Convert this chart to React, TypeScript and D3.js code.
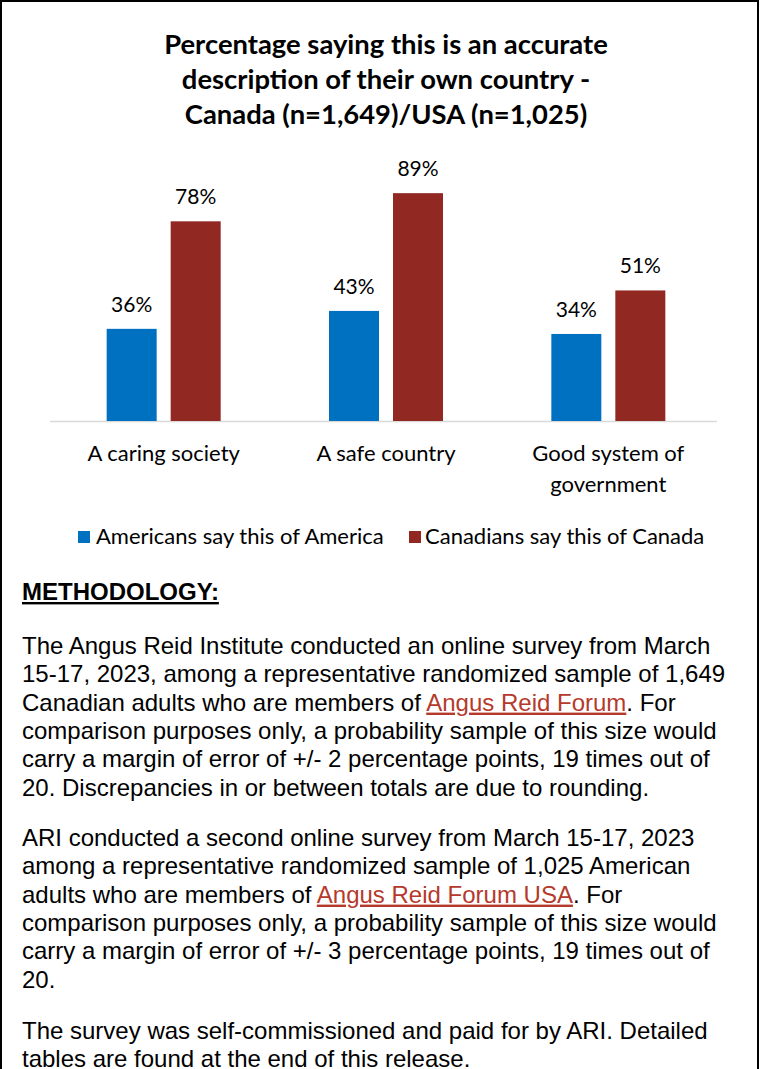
import React from "react";
import * as d3 from "d3";

const categories = ["A caring society", "A safe country", "Good system of government"];
const categoryLines = [["A caring society"], ["A safe country"], ["Good system of", "government"]];
const seriesNames = ["Americans say this of America", "Canadians say this of Canada"];
const americans = [36, 43, 34];
const canadians = [78, 89, 51];
const seriesColors = ["#0070C0", "#922822"];
const titleLines = [
  "Percentage saying this is an accurate",
  "description of their own country -",
  "Canada (n=1,649)/USA (n=1,025)",
];

type Seg = { t: string; link?: boolean };
const paragraph1: Seg[][] = [
  [{ t: "The Angus Reid Institute conducted an online survey from March" }],
  [{ t: "15-17, 2023, among a representative randomized sample of 1,649" }],
  [{ t: "Canadian adults who are members of " }, { t: "Angus Reid Forum", link: true }, { t: ". For" }],
  [{ t: "comparison purposes only, a probability sample of this size would" }],
  [{ t: "carry a margin of error of +/- 2 percentage points, 19 times out of" }],
  [{ t: "20. Discrepancies in or between totals are due to rounding." }],
];
const paragraph2: Seg[][] = [
  [{ t: "ARI conducted a second online survey from March 15-17, 2023" }],
  [{ t: "among a representative randomized sample of 1,025 American" }],
  [{ t: "adults who are members of " }, { t: "Angus Reid Forum USA", link: true }, { t: ". For" }],
  [{ t: "comparison purposes only, a probability sample of this size would" }],
  [{ t: "carry a margin of error of +/- 3 percentage points, 19 times out of" }],
  [{ t: "20." }],
];
const paragraph3: Seg[][] = [
  [{ t: "The survey was self-commissioned and paid for by ARI. Detailed" }],
  [{ t: "tables are found at the end of this release." }],
];

const W = 760;
const H = 1069;

export default function App() {
  const x0 = d3.scaleBand<string>().domain(categories).range([52.5, 719.5]).paddingInner(0).paddingOuter(0);
  const y = d3.scaleLinear().domain([0, 100]).range([421, 165]);
  const barW = 50;
  const gap = 14;
  const series = [americans, canadians];

  const titleFont = "Lato, 'Open Sans', sans-serif";
  const bodyFont = "'Liberation Sans', Arial, sans-serif";

  const renderPara = (lines: Seg[][], startY: number) =>
    lines.map((segs, i) => (
      <text key={i} x={22} y={startY + i * 28.3} fontFamily={bodyFont} fontSize={24} fill="#000">
        {segs.map((s, j) => (
          <tspan key={j} fill={s.link ? "#B53A2C" : "#000"}
            style={s.link ? { textDecoration: "underline" } : undefined}>
            {s.t}
          </tspan>
        ))}
      </text>
    ));

  return (
    <div style={{ position: "absolute", left: 0, top: 0 }}>
      <svg width={W} height={H} viewBox={`0 0 ${W} ${H}`} style={{ display: "block" }}>
        <rect x={0} y={0} width={W} height={H} fill="#fff" />
        <path d={`M1,${H} V1 H758 V${H}`} fill="none" stroke="#000" strokeWidth={2} />

        {titleLines.map((t, i) => (
          <text key={i} x={386} y={54 + i * 35} textAnchor="middle" fontFamily={titleFont} fontWeight={700} fontSize={27.4} fill="#000">
            {t}
          </text>
        ))}

        <line x1={50} x2={717} y1={y(0) + 0.5} y2={y(0) + 0.5} stroke="#D9D9D9" strokeWidth={1.5} />

        {categories.map((c, ci) => {
          const cx = (x0(c) as number) + x0.bandwidth() / 2;
          return (
            <g key={c}>
              {series.map((vals, si) => {
                const bx = si === 0 ? cx - gap / 2 - barW : cx + gap / 2;
                const v = vals[ci];
                return (
                  <g key={si}>
                    <rect x={bx} y={y(v)} width={barW} height={y(0) - y(v)} fill={seriesColors[si]} />
                    <text x={bx + barW / 2} y={y(v) - 17} textAnchor="middle" fontFamily={titleFont} fontSize={21} fill="#000">
                      {v}%
                    </text>
                  </g>
                );
              })}
              {categoryLines[ci].map((ln, li) => (
                <text key={li} x={cx} y={461 + li * 31} textAnchor="middle" fontFamily={titleFont} fontSize={22} fill="#000">
                  {ln}
                </text>
              ))}
            </g>
          );
        })}

        <g>
          <rect x={78} y={531} width={12} height={12} fill={seriesColors[0]} />
          <text x={96} y={544} fontFamily={titleFont} fontSize={22} fill="#000">{seriesNames[0]}</text>
          <rect x={409} y={531} width={12} height={12} fill={seriesColors[1]} />
          <text x={425} y={544} fontFamily={titleFont} fontSize={22} fill="#000">{seriesNames[1]}</text>
        </g>

        <text x={22} y={600} fontFamily={bodyFont} fontWeight={700} fontSize={24} fill="#000" style={{ textDecoration: "underline" }}>
          METHODOLOGY:
        </text>

        {renderPara(paragraph1, 654)}
        {renderPara(paragraph2, 846)}
        {renderPara(paragraph3, 1039)}
      </svg>
    </div>
  );
}
